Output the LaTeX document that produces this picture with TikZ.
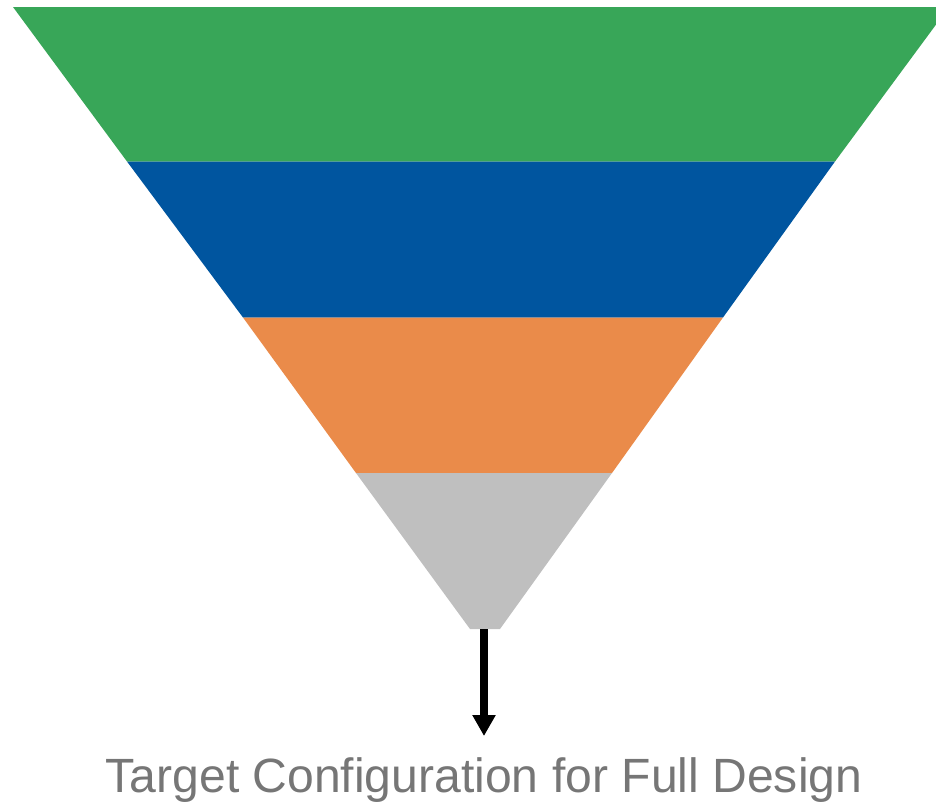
\documentclass[tikz,border=0pt]{standalone}
\usepackage{fontspec}
\setmainfont{Liberation Sans}
\usetikzlibrary{arrows.meta}
\definecolor{fgreen}{HTML}{38A658}
\definecolor{fblue}{HTML}{00559F}
\definecolor{forange}{HTML}{EA8B4A}
\definecolor{fgray}{HTML}{BFBFBF}
\definecolor{tgray}{HTML}{767676}
\begin{document}
\begin{tikzpicture}[x=1pt,y=-1pt,
  band/.style={draw=none},
  flow/.style={line width=8pt,-{Triangle[width=22pt,length=21pt]}}]
\useasboundingbox (0,0) rectangle (936,804);
\begin{scope}
\clip (0,0) rectangle (936,804);
\fill[band,fgreen] (13,7) -- (949,7) -- (835,161.5) -- (127,161.5) -- cycle;
\fill[band,fblue] (127,161.5) -- (835,161.5) -- (723,317.5) -- (243,317.5) -- cycle;
\fill[band,forange] (243,317.5) -- (723,317.5) -- (612,473) -- (356,473) -- cycle;
\fill[band,fgray] (356,473) -- (612,473) -- (500,629) -- (470,629) -- cycle;
\end{scope}
\coordinate (bottom) at (484,629);
\coordinate (tip) at (484,736);
\draw[flow] (bottom) -- (tip);
\node[anchor=base, text=tgray, font=\fontsize{48.1}{50}\selectfont, inner sep=0pt] (label) at (484,792) {Target Configuration for Full Design};
\end{tikzpicture}
\end{document}
